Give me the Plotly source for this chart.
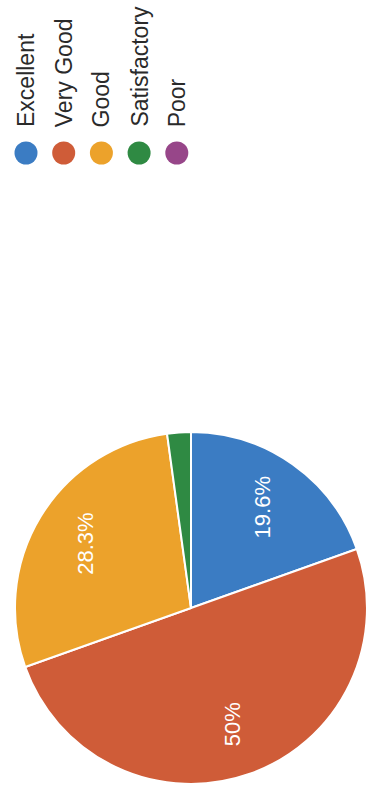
import numpy as np
import plotly.graph_objects as go

# Ratings and respondent counts (46 responses)
categories = ['Excellent', 'Very Good', 'Good', 'Satisfactory', 'Poor']
counts = [9, 23, 13, 1, 0]
colors = ['#3b7cc3', '#cf5c38', '#eca22b', '#2f8a43', '#974689']

W, H = 367, 796
# pie box in pixels (left, right, top, bottom)
pie_l, pie_r, pie_t, pie_b = 15, 367, 431, 785

fig = go.Figure()

fig.add_trace(go.Pie(
    labels=categories,
    values=counts,
    sort=False,
    direction='clockwise',
    rotation=0,
    marker=dict(colors=colors, line=dict(color='white', width=2)),
    textinfo='none',
    hoverinfo='label+percent',
    showlegend=False,
    domain=dict(x=[pie_l / W, pie_r / W], y=[1 - pie_b / H, 1 - pie_t / H]),
))

# slice labels, rotated like the scanned page
total = sum(counts)
cx = (pie_l + pie_r) / 2
cy = (pie_t + pie_b) / 2
rad = (pie_r - pie_l) / 2
start = 0
for cat, n in zip(categories, counts):
    share = n / total
    mid = np.deg2rad((start + share / 2) * 360)
    start += share
    if share < 0.05:
        continue
    px_x = cx + 0.7 * rad * np.sin(mid)
    px_y = cy - 0.7 * rad * np.cos(mid)
    fig.add_annotation(
        x=px_x / W, y=1 - px_y / H, xref='paper', yref='paper',
        xanchor='center', yanchor='middle',
        text=f'{round(share * 100, 1):g}%', showarrow=False, textangle=-90,
        font=dict(family='Liberation Sans, Arial', size=22, color='white'),
    )

# legend: dots on a hidden axis, vertical labels above them
idx = list(range(len(categories)))
fig.add_trace(go.Scatter(
    x=idx, y=[0] * len(idx), mode='markers',
    marker=dict(size=23, color=colors),
    hoverinfo='skip', showlegend=False,
))
for i, cat in zip(idx, categories):
    fig.add_annotation(
        x=i, y=1 - 129 / H, xref='x', yref='paper',
        text=cat, showarrow=False, textangle=-90,
        xanchor='center', yanchor='bottom',
        font=dict(family='Liberation Sans, Arial', size=23, color='#2a2a2a'),
    )

step = 37.7
x0 = 26
fig.update_layout(
    width=W, height=H,
    margin=dict(l=0, r=0, t=0, b=0),
    paper_bgcolor='white', plot_bgcolor='rgba(0,0,0,0)',
    xaxis=dict(range=[-x0 / step, (W - x0) / step], visible=False, fixedrange=True),
    yaxis=dict(range=[-1, 1], domain=[1 - 165 / H, 1 - 141 / H], visible=False, fixedrange=True),
)

# page has a default 8px body margin; drop it so the figure fills the window
fig.write_html('out.html', config={'displayModeBar': False},
               post_script="document.body.style.margin='0';")
